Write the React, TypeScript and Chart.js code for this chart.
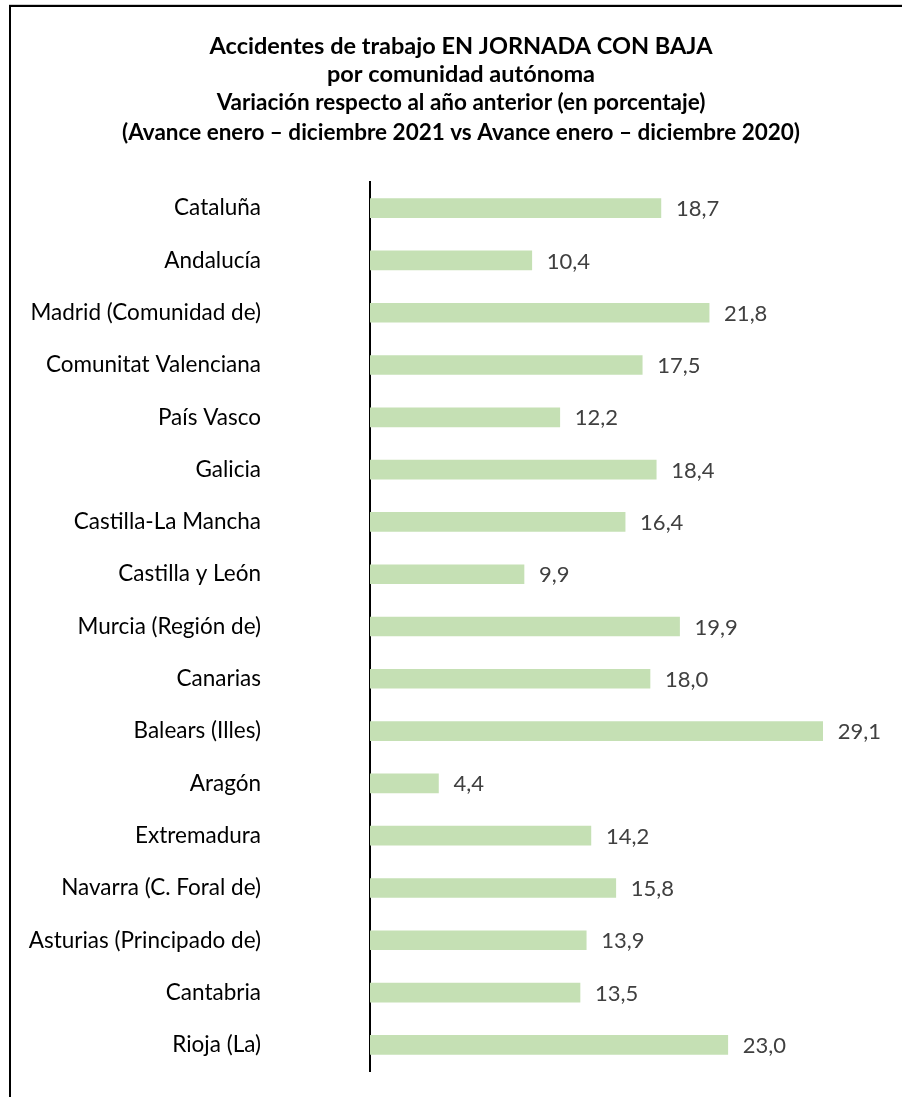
import React, { useEffect, useRef } from "react";
import { Chart, registerables } from "chart.js";

Chart.register(...registerables);

const categories = [
  "Cataluña",
  "Andalucía",
  "Madrid (Comunidad de)",
  "Comunitat Valenciana",
  "País Vasco",
  "Galicia",
  "Castilla-La Mancha",
  "Castilla y León",
  "Murcia (Región de)",
  "Canarias",
  "Balears (Illes)",
  "Aragón",
  "Extremadura",
  "Navarra (C. Foral de)",
  "Asturias (Principado de)",
  "Cantabria",
  "Rioja (La)",
];

const values = [18.7, 10.4, 21.8, 17.5, 12.2, 18.4, 16.4, 9.9, 19.9, 18.0, 29.1, 4.4, 14.2, 15.8, 13.9, 13.5, 23.0];

const titleLines = ["Accidentes de trabajo EN JORNADA CON BAJA", "por comunidad autónoma"];
const subtitleLines = [
  "Variación respecto al año anterior (en porcentaje)",
  "(Avance enero – diciembre 2021 vs Avance enero – diciembre 2020)",
];

const FONT = "Lato, 'Open Sans', sans-serif";

const dataLabelPlugin = {
  id: "dataLabels",
  afterDatasetsDraw(chart: any) {
    const ctx = chart.ctx;
    const meta = chart.getDatasetMeta(0);
    ctx.save();
    ctx.font = `22px ${FONT}`;
    ctx.fillStyle = "#404040";
    ctx.textAlign = "left";
    ctx.textBaseline = "middle";
    meta.data.forEach((bar: any, i: number) => {
      const v = chart.data.datasets[0].data[i] as number;
      ctx.fillText(v.toFixed(1).replace(".", ","), bar.x + 15, bar.y + 1);
    });
    ctx.restore();
  },
};

const frameBorderPlugin = {
  id: "frameBorder",
  afterDraw(chart: any) {
    const ctx = chart.ctx;
    ctx.save();
    ctx.fillStyle = "#cfcfcf";
    ctx.fillRect(9, 4, chart.width - 9, 1);
    ctx.fillStyle = "#000";
    ctx.fillRect(9, 5, chart.width - 9, 2);
    ctx.fillRect(9, 5, 2, chart.height - 5);
    ctx.restore();
  },
};

export default function App() {
  const ref = useRef<HTMLCanvasElement | null>(null);
  useEffect(() => {
    if (!ref.current) return;
    const chart = new Chart(ref.current, {
      type: "bar",
      data: {
        labels: categories,
        datasets: [
          {
            data: values,
            backgroundColor: "#C5E0B4",
            borderWidth: 0,
            barThickness: 19,
          },
        ],
      },
      options: {
        indexAxis: "y",
        responsive: false,
        animation: false,
        devicePixelRatio: 1,
        layout: { padding: { left: 20, right: 0, top: 0, bottom: 26 } },
        plugins: {
          legend: { display: false },
          tooltip: { enabled: false },
          title: {
            display: true,
            text: titleLines,
            color: "#000",
            font: { family: FONT, size: 23.5, weight: "bold", lineHeight: 28 / 23.5 },
            padding: { top: 32, bottom: 0 },
          },
          subtitle: {
            display: true,
            text: subtitleLines,
            color: "#000",
            font: { family: FONT, size: 22.5, weight: "bold", lineHeight: 30 / 22.5 },
            padding: { top: 0, bottom: 34 },
          },
        },
        scales: {
          x: {
            display: false,
            min: 0,
            max: 34.2,
          },
          y: {
            grid: { display: false, drawTicks: false },
            border: { display: true, color: "#000", width: 2 },
            ticks: {
              color: "#000",
              font: { family: FONT, size: 22.5 },
              padding: 109,
            },
            afterFit(scale: any) {
              scale.width = 350;
              scale.paddingTop = 0;
              scale.paddingBottom = 0;
            },
          },
        },
      },
      plugins: [dataLabelPlugin, frameBorderPlugin],
    });
    return () => chart.destroy();
  }, []);

  return (
    <div
      style={{
        position: "absolute",
        left: 0,
        top: 0,
        width: 902,
        height: 1097,
        overflow: "hidden",
        background: "#fff",
      }}
    >
      <canvas ref={ref} width={902} height={1097} style={{ display: "block", position: "absolute", left: 0, top: 0 }} />
    </div>
  );
}
